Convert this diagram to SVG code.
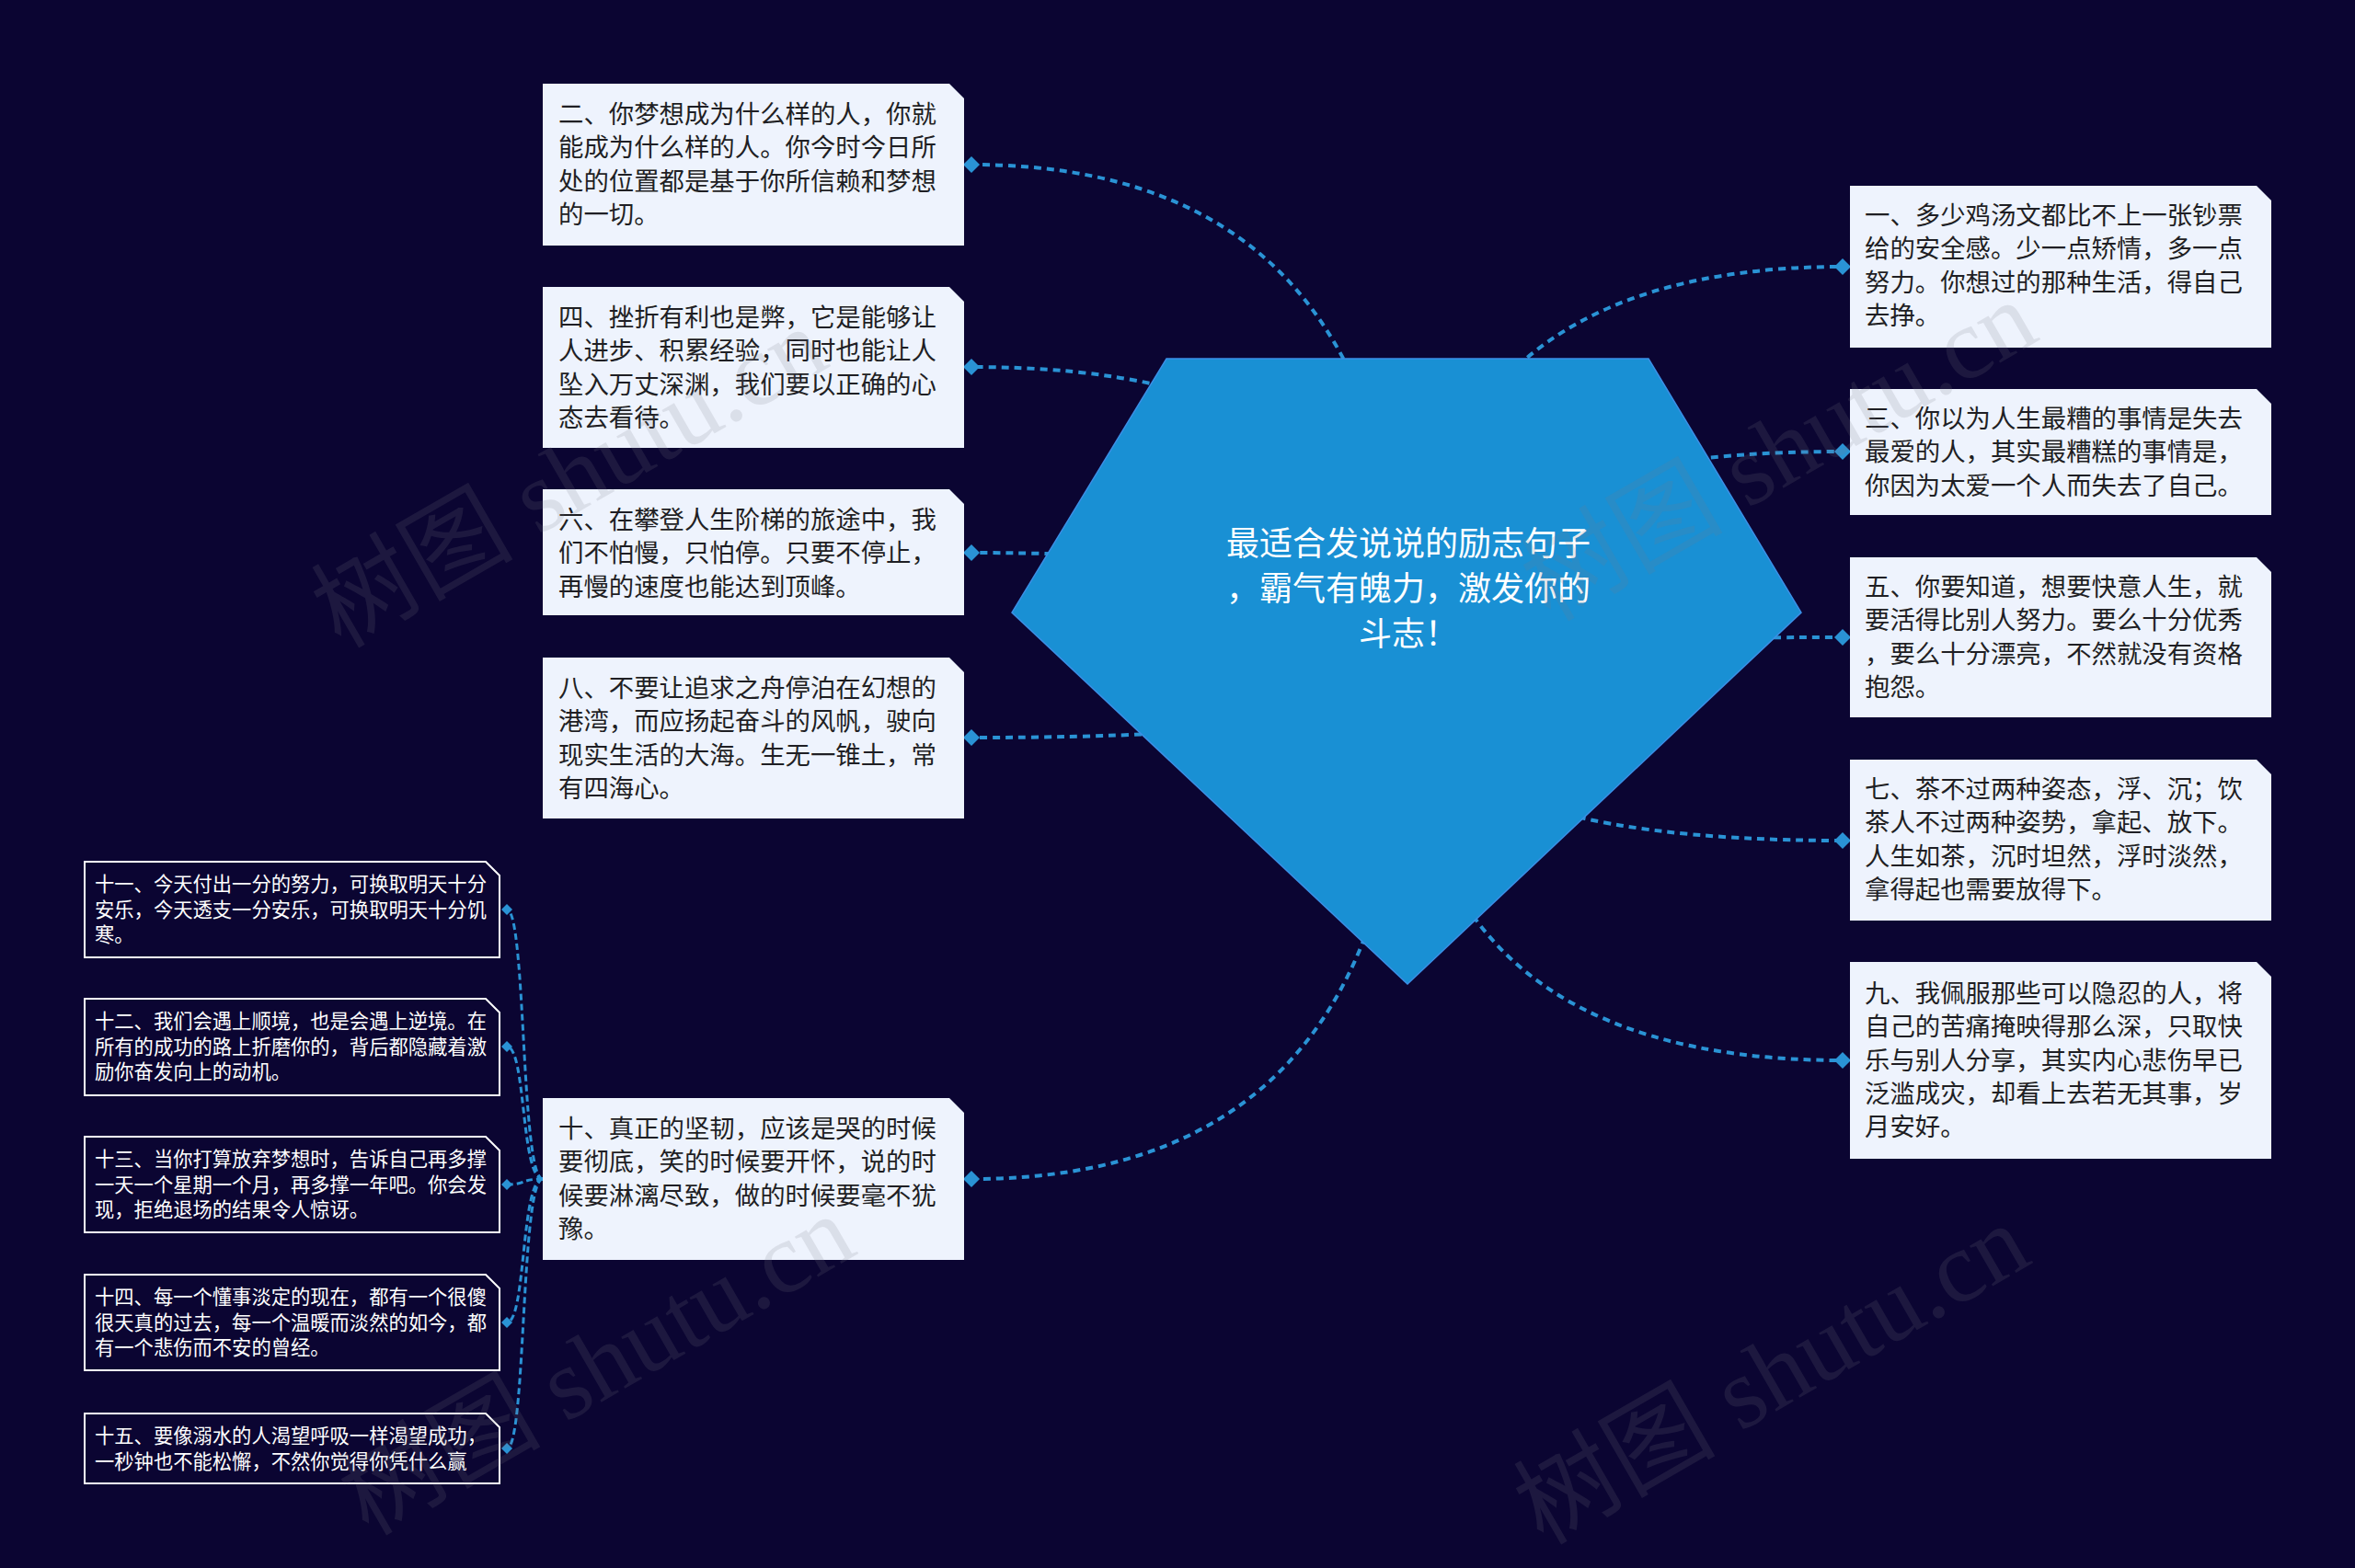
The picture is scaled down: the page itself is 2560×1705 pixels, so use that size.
<svg xmlns="http://www.w3.org/2000/svg" width="2560" height="1705" viewBox="0 0 2560 1705">
<style>
.bg{fill:#0b0532}
.box{fill:#eef3fd}
.sbox{fill:#0b0532;stroke:#ffffff;stroke-width:2}
.bt{font-family:"Noto Sans CJK SC","Noto Sans",sans-serif;font-size:27.4px;fill:#1f1f24}
.st{font-family:"Noto Sans CJK SC","Noto Sans",sans-serif;font-size:21.3px;fill:#ffffff}
.ct{font-family:"Noto Sans CJK SC","Noto Sans",sans-serif;font-size:36px;fill:#ffffff;text-anchor:middle}
.link{fill:none;stroke:#2a93d5;stroke-width:4;stroke-dasharray:8 6}
.sub{fill:none;stroke:#2a93d5;stroke-width:3;stroke-dasharray:7 4}
.wm{font-family:"Liberation Serif","Noto Sans CJK SC",serif;font-size:110px;fill:#7a7a86;opacity:0.16}
</style>
<defs>
<marker id="dm" markerWidth="20" markerHeight="20" refX="10" refY="10" markerUnits="userSpaceOnUse" orient="0">
<path d="M10 1 L19 10 L10 19 L1 10 Z" fill="#2a93d5"/>
</marker>
<marker id="dms" markerWidth="14" markerHeight="14" refX="7" refY="7" markerUnits="userSpaceOnUse" orient="0">
<path d="M7 1 L13 7 L7 13 L1 7 Z" fill="#2a93d5"/>
</marker>
</defs>
<rect class="bg" x="0" y="0" width="2560" height="1705"/>

<g id="connectors">
<path class="link" marker-end="url(#dm)" d="M1529 730 Q1529 179 1056 179"/>
<path class="link" marker-end="url(#dm)" d="M1529 730 Q1529 399 1056 399"/>
<path class="link" marker-end="url(#dm)" d="M1529 730 Q1529 601 1056 601"/>
<path class="link" marker-end="url(#dm)" d="M1529 730 Q1529 802 1056 802"/>
<path class="link" marker-end="url(#dm)" d="M1529 730 Q1529 1282 1056 1282"/>
<path class="link" marker-end="url(#dm)" d="M1529 730 Q1529 290 2003 290"/>
<path class="link" marker-end="url(#dm)" d="M1529 730 Q1529 491 2003 491"/>
<path class="link" marker-end="url(#dm)" d="M1529 730 Q1529 693 2003 693"/>
<path class="link" marker-end="url(#dm)" d="M1529 730 Q1529 914 2003 914"/>
<path class="link" marker-end="url(#dm)" d="M1529 730 Q1529 1153 2003 1153"/>
<path class="sub" marker-end="url(#dms)" d="M590 1282 C566 1282 572 989 551 989"/>
<path class="sub" marker-end="url(#dms)" d="M590 1282 C566 1282 572 1138 551 1138"/>
<path class="sub" marker-end="url(#dms)" d="M590 1282 C566 1282 572 1288 551 1288"/>
<path class="sub" marker-end="url(#dms)" d="M590 1282 C566 1282 572 1438 551 1438"/>
<path class="sub" marker-end="url(#dms)" d="M590 1282 C566 1282 572 1575 551 1575"/>
</g>

<g id="center">
<polygon points="1268,390 1792,390 1958,666 1530,1070 1100,666" fill="#1990d4" stroke="#3b8fe6" stroke-width="1.5"/>
<text class="ct" x="1531" y="604">最适合发说说的励志句子</text>
<text class="ct" x="1531" y="653">，霸气有魄力，激发你的</text>
<text class="ct" x="1531" y="702">斗志！</text>
</g>

<g id="n2">
<path class="box" d="M590 91 H1032 L1048 107 V267 H590 Z"/>
<text class="bt" x="607" y="134">二、你梦想成为什么样的人，你就</text>
<text class="bt" x="607" y="170.3">能成为什么样的人。你今时今日所</text>
<text class="bt" x="607" y="206.6">处的位置都是基于你所信赖和梦想</text>
<text class="bt" x="607" y="242.9">的一切。</text>
</g>
<g id="n4">
<path class="box" d="M590 312 H1032 L1048 328 V487 H590 Z"/>
<text class="bt" x="607" y="355">四、挫折有利也是弊，它是能够让</text>
<text class="bt" x="607" y="391.3">人进步、积累经验，同时也能让人</text>
<text class="bt" x="607" y="427.6">坠入万丈深渊，我们要以正确的心</text>
<text class="bt" x="607" y="463.9">态去看待。</text>
</g>
<g id="n6">
<path class="box" d="M590 532 H1032 L1048 548 V669 H590 Z"/>
<text class="bt" x="607" y="575">六、在攀登人生阶梯的旅途中，我</text>
<text class="bt" x="607" y="611.3">们不怕慢，只怕停。只要不停止，</text>
<text class="bt" x="607" y="647.6">再慢的速度也能达到顶峰。</text>
</g>
<g id="n8">
<path class="box" d="M590 715 H1032 L1048 731 V890 H590 Z"/>
<text class="bt" x="607" y="758">八、不要让追求之舟停泊在幻想的</text>
<text class="bt" x="607" y="794.3">港湾，而应扬起奋斗的风帆，驶向</text>
<text class="bt" x="607" y="830.6">现实生活的大海。生无一锥土，常</text>
<text class="bt" x="607" y="866.9">有四海心。</text>
</g>
<g id="n10">
<path class="box" d="M590 1194 H1032 L1048 1210 V1370 H590 Z"/>
<text class="bt" x="607" y="1237">十、真正的坚韧，应该是哭的时候</text>
<text class="bt" x="607" y="1273.3">要彻底，笑的时候要开怀，说的时</text>
<text class="bt" x="607" y="1309.6">候要淋漓尽致，做的时候要毫不犹</text>
<text class="bt" x="607" y="1345.9">豫。</text>
</g>

<g id="n1">
<path class="box" d="M2011 202 H2453 L2469 218 V378 H2011 Z"/>
<text class="bt" x="2027" y="244">一、多少鸡汤文都比不上一张钞票</text>
<text class="bt" x="2027" y="280.3">给的安全感。少一点矫情，多一点</text>
<text class="bt" x="2027" y="316.6">努力。你想过的那种生活，得自己</text>
<text class="bt" x="2027" y="352.9">去挣。</text>
</g>
<g id="n3">
<path class="box" d="M2011 423 H2453 L2469 439 V560 H2011 Z"/>
<text class="bt" x="2027" y="465">三、你以为人生最糟的事情是失去</text>
<text class="bt" x="2027" y="501.3">最爱的人，其实最糟糕的事情是，</text>
<text class="bt" x="2027" y="537.6">你因为太爱一个人而失去了自己。</text>
</g>
<g id="n5">
<path class="box" d="M2011 606 H2453 L2469 622 V780 H2011 Z"/>
<text class="bt" x="2027" y="648">五、你要知道，想要快意人生，就</text>
<text class="bt" x="2027" y="684.3">要活得比别人努力。要么十分优秀</text>
<text class="bt" x="2027" y="720.6">，要么十分漂亮，不然就没有资格</text>
<text class="bt" x="2027" y="756.9">抱怨。</text>
</g>
<g id="n7">
<path class="box" d="M2011 826 H2453 L2469 842 V1001 H2011 Z"/>
<text class="bt" x="2027" y="868">七、茶不过两种姿态，浮、沉；饮</text>
<text class="bt" x="2027" y="904.3">茶人不过两种姿势，拿起、放下。</text>
<text class="bt" x="2027" y="940.6">人生如茶，沉时坦然，浮时淡然，</text>
<text class="bt" x="2027" y="976.9">拿得起也需要放得下。</text>
</g>
<g id="n9">
<path class="box" d="M2011 1046 H2453 L2469 1062 V1260 H2011 Z"/>
<text class="bt" x="2027" y="1090">九、我佩服那些可以隐忍的人，将</text>
<text class="bt" x="2027" y="1126.3">自己的苦痛掩映得那么深，只取快</text>
<text class="bt" x="2027" y="1162.6">乐与别人分享，其实内心悲伤早已</text>
<text class="bt" x="2027" y="1198.9">泛滥成灾，却看上去若无其事，岁</text>
<text class="bt" x="2027" y="1235.2">月安好。</text>
</g>

<g id="n11">
<path class="sbox" d="M92 937 H528 L543 952 V1041 H92 Z"/>
<text class="st" x="103" y="969">十一、今天付出一分的努力，可换取明天十分</text>
<text class="st" x="103" y="996.5">安乐，今天透支一分安乐，可换取明天十分饥</text>
<text class="st" x="103" y="1024">寒。</text>
</g>
<g id="n12">
<path class="sbox" d="M92 1086 H528 L543 1101 V1191 H92 Z"/>
<text class="st" x="103" y="1118">十二、我们会遇上顺境，也是会遇上逆境。在</text>
<text class="st" x="103" y="1145.5">所有的成功的路上折磨你的，背后都隐藏着激</text>
<text class="st" x="103" y="1173">励你奋发向上的动机。</text>
</g>
<g id="n13">
<path class="sbox" d="M92 1236 H528 L543 1251 V1340 H92 Z"/>
<text class="st" x="103" y="1268">十三、当你打算放弃梦想时，告诉自己再多撑</text>
<text class="st" x="103" y="1295.5">一天一个星期一个月，再多撑一年吧。你会发</text>
<text class="st" x="103" y="1323">现，拒绝退场的结果令人惊讶。</text>
</g>
<g id="n14">
<path class="sbox" d="M92 1386 H528 L543 1401 V1490 H92 Z"/>
<text class="st" x="103" y="1418">十四、每一个懂事淡定的现在，都有一个很傻</text>
<text class="st" x="103" y="1445.5">很天真的过去，每一个温暖而淡然的如今，都</text>
<text class="st" x="103" y="1473">有一个悲伤而不安的曾经。</text>
</g>
<g id="n15">
<path class="sbox" d="M92 1537 H528 L543 1552 V1613 H92 Z"/>
<text class="st" x="103" y="1569">十五、要像溺水的人渴望呼吸一样渴望成功，</text>
<text class="st" x="103" y="1596.5">一秒钟也不能松懈，不然你觉得你凭什么赢</text>
</g>

<g id="watermarks">
<text class="wm" x="625" y="555" text-anchor="middle" transform="rotate(-30 625 530)">树图 shutu.cn</text>
<text class="wm" x="1940" y="526" text-anchor="middle" transform="rotate(-30 1940 501)">树图 shutu.cn</text>
<text class="wm" x="655" y="1520" text-anchor="middle" transform="rotate(-30 655 1495)">树图 shutu.cn</text>
<text class="wm" x="1932" y="1530" text-anchor="middle" transform="rotate(-30 1932 1505)">树图 shutu.cn</text>
</g>
</svg>
